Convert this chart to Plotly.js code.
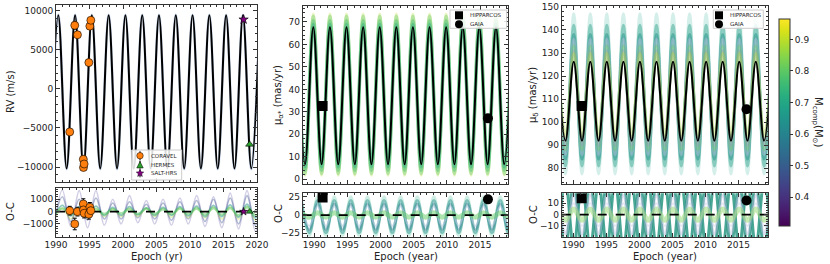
<!DOCTYPE html>
<html><head><meta charset="utf-8">
<script src="https://cdn.plot.ly/plotly-3.0.1.min.js"></script>
<style>html,body{margin:0;padding:0;background:#fff}#chart{width:830px;height:264px}</style>
</head><body><div id="chart"></div>
<script>
// ================= DATA =================
// Panel 1 : radial velocity model (extrema epochs, first one is a trough)
const rvModelEpoch = [1989.09, 1990.34, 1991.59, 1992.85, 1994.10, 1995.35, 1996.60, 1997.86, 1999.11, 2000.36, 2001.61, 2002.87, 2004.12, 2005.37, 2006.62, 2007.88, 2009.13, 2010.38, 2011.63, 2012.89, 2014.14, 2015.39, 2016.64, 2017.90, 2019.15, 2020.40];
const rvModel = [-10170, 9400, -10170, 9400, -10170, 9400, -10170, 9400, -10170, 9400, -10170, 9400, -10170, 9400, -10170, 9400, -10170, 9400, -10170, 9400, -10170, 9400, -10170, 9400, -10170, 9400];
// RV posterior sample envelope (peak / trough levels)
const rvSamplePeak = [9450];
const rvSampleTrough = [-10260];

// RV O-C posterior samples (extrema epochs, first one is a trough)
const rvOCEpoch = [1989.70, 1990.95, 1992.20, 1993.46, 1994.71, 1995.96, 1997.21, 1998.47, 1999.72, 2000.97, 2002.22, 2003.48, 2004.73, 2005.98, 2007.23, 2008.49, 2009.74, 2010.99, 2012.24, 2013.50, 2014.75, 2016.00, 2017.25, 2018.51, 2019.76, 2021.01];
const rvOCSampleA = [-1300, 1750, -1200, 1700, -1300, 1700, -1100, 1000, -1000, 1300, -900, 900, -1000, 1000, -1100, 1100, -1000, 1300, -1200, 1200, -1300, 1500, -1400, 1700, -1600, 1800];
const rvOCSampleB = [-900, 1200, -800, 1000, -700, 1100, -600, 700, -600, 800, -500, 600, -600, 700, -700, 800, -600, 900, -800, 1000, -900, 1100, -1000, 1300, -1100, 1400];
const rvOCSampleC = [-700, 300, -600, 300, -500, 300, -400, 250, -400, 300, -400, 250, -400, 300, -450, 300, -500, 350, -500, 400, -600, 400, -600, 450, -700, 500];
const rvOCSampleD = [-400, 500, -350, 400, -300, 450, -300, 350, -300, 400, -250, 300, -300, 350, -300, 400, -350, 450, -400, 500, -400, 550, -450, 600, -500, 600];
const rvOCSampleE = [-200, 250, -200, 200, -150, 200, -200, 200, -150, 200, -200, 250, -200, 200, -200, 250, -200, 250, -250, 300, -250, 300, -300, 350, -300, 350];

// RV measurements
const coravelEpoch = [1992.05, 1992.80, 1993.20, 1994.08, 1994.10, 1994.20, 1994.90, 1995.05, 1995.20];
const coravelRV    = [-5500, 8100, 6900, -9000, -10050, -9600, 3350, 8000, 8750];
const coravelOC    = [80, -1000, 0, 620, 140, -130, -210, 360, 80];
const coravelErr   = [350, 470, 350, 420, 380, 380, 400, 380, 350];
const hermesEpoch = [2018.9];
const hermesRV    = [-7100];
const hermesOC    = [0];
const hermesErr   = [60];
const saltEpoch = [2018.0];
const saltRV    = [8850];
const saltOC    = [0];
const saltErr   = [60];

// Panel 2 : proper motion in RA (extrema epochs, first one is a peak)
const muaEpoch = [1987.34, 1988.60, 1989.85, 1991.10, 1992.36, 1993.61, 1994.86, 1996.11, 1997.37, 1998.62, 1999.87, 2001.12, 2002.38, 2003.63, 2004.88, 2006.13, 2007.39, 2008.64, 2009.89, 2011.14, 2012.40, 2013.65, 2014.90, 2016.15, 2017.41, 2018.66, 2019.91];
const muaModel = [67.6, 6.7, 67.6, 6.7, 67.6, 6.7, 67.6, 6.7, 67.6, 6.7, 67.6, 6.7, 67.6, 6.7, 67.6, 6.7, 67.6, 6.7, 67.6, 6.7, 67.6, 6.7, 67.6, 6.7, 67.6, 6.7, 67.6];
const muaSamplePeak   = [73.5, 72.5, 70.5, 69.0];
const muaSampleTrough = [1.8, 2.5, 4.0, 5.5];
const muaOCEpoch = [1988.00, 1989.25, 1990.50, 1991.75, 1993.01, 1994.26, 1995.51, 1996.76, 1998.02, 1999.27, 2000.52, 2001.77, 2003.03, 2004.28, 2005.53, 2006.78, 2008.04, 2009.29, 2010.54, 2011.79, 2013.05, 2014.30, 2015.55, 2016.80, 2018.06, 2019.31, 2020.56];
const muaOCSamplePeak   = [25, 20, 15, 12, 3];
const muaOCSampleTrough = [-28, -24, -20, -15, -3];

// Panel 3 : proper motion in Dec (extrema epochs, first one is a peak)
const mudEpoch = [1987.55, 1988.80, 1990.05, 1991.30, 1992.56, 1993.81, 1995.06, 1996.31, 1997.57, 1998.82, 2000.07, 2001.32, 2002.58, 2003.83, 2005.08, 2006.33, 2007.59, 2008.84, 2010.09, 2011.34, 2012.60, 2013.85, 2015.10, 2016.35, 2017.61, 2018.86, 2020.11];
const mudModel = [126.2, 92, 126.2, 92, 126.2, 92, 126.2, 92, 126.2, 92, 126.2, 92, 126.2, 92, 126.2, 92, 126.2, 92, 126.2, 92, 126.2, 92, 126.2, 92, 126.2, 92, 126.2];
const mudSamplePeak   = [147, 142, 138, 136, 133, 131, 130];
const mudSampleTrough = [77.5, 81, 84, 86, 88, 90, 94];
const mudOCSamplePeak   = [30, -30, 17, 10, 5];
const mudOCSampleTrough = [-30, 30, -17, -10, -5];

// Absolute astrometry
const hipEpoch  = [1991.25];
const hipMua    = [32.6];
const hipMuaOC  = [24.1];
const hipMud    = [107.0];
const hipMudOC  = [14.5];
const gaiaEpoch = [2016.2];
const gaiaMua   = [27.1];
const gaiaMuaOC = [21.4];
const gaiaMud   = [105.6];
const gaiaMudOC = [12.4];

// Companion mass range of the colour bar
const massRange = [0.308, 0.965];
const massTicks = [0.4, 0.5, 0.6, 0.7, 0.8, 0.9];

// Text
const rvNames = ['CORAVEL', 'HERMES', 'SALT-HRS'];
const astroNames = ['HIPPARCOS', 'GAIA'];

// ================= STYLES =================
const TICK_FONT = 9, TITLE_FONT = 10, LEGEND_FONT = 5.5;
const rvSampleStyle   = [{c:'rgba(110,150,205,0.35)', w:2.6}];
const rvOCStyle = [
  {c:'rgba(90,80,160,0.28)', w:1.6},
  {c:'rgba(59,82,139,0.40)', w:1.6},
  {c:'rgba(190,220,60,0.35)', w:1.6},
  {c:'rgba(33,145,140,0.50)', w:1.8},
  {c:'rgba(94,201,98,0.55)', w:2.5}
];
const muaSampleStyle = [
  {c:'rgba(190,225,60,0.30)', w:3},
  {c:'rgba(94,201,98,0.40)', w:3.5},
  {c:'rgba(63,188,115,0.40)', w:3.5},
  {c:'rgba(34,168,132,0.40)', w:3}
];
const muaOCStyle = [
  {c:'rgba(90,195,160,0.30)', w:3},
  {c:'rgba(33,145,140,0.50)', w:3},
  {c:'rgba(45,120,140,0.40)', w:2.5},
  {c:'rgba(185,205,225,0.6)', w:2},
  {c:'rgba(94,201,98,0.5)', w:5}
];
const mudSampleStyle = [
  {c:'rgba(100,195,175,0.28)', w:3},
  {c:'rgba(40,160,135,0.45)', w:3},
  {c:'rgba(33,145,140,0.50)', w:3},
  {c:'rgba(190,190,225,0.40)', w:3},
  {c:'rgba(94,201,98,0.40)', w:3},
  {c:'rgba(140,130,190,0.30)', w:3},
  {c:'rgba(180,222,44,0.35)', w:3}
];
const mudOCStyle = [
  {c:'rgba(42,150,130,0.85)', w:3},
  {c:'rgba(42,150,130,0.85)', w:3},
  {c:'rgba(180,185,220,0.45)', w:3},
  {c:'rgba(210,215,235,0.6)', w:2},
  {c:'rgba(130,210,90,0.45)', w:5}
];
const coravelColor = '#ff7f0e', hermesColor = '#2ca02c', saltColor = '#800080';

// ================= BUILD =================
// expand a sample (peak/trough levels) over the alternating extrema epochs
function levels(epochs, peak, trough, firstIsPeak) {
  return epochs.map((_, i) => ((i % 2 === 0) === firstIsPeak) ? peak : trough);
}
function curve(x, y, xa, ya, color, width) {
  return {type:'scatter', mode:'lines', x:x, y:y, xaxis:xa, yaxis:ya,
    line:{color:color, width:width, shape:'spline', smoothing:1},
    hoverinfo:'skip', showlegend:false};
}
function pts(x, y, xa, ya, sym, color, size, err, lw) {
  const t = {type:'scatter', mode:'markers', x:x, y:y, xaxis:xa, yaxis:ya, showlegend:false, hoverinfo:'skip',
    marker:{symbol:sym, color:color, size:size, line:{color:'#000', width:lw === undefined ? 0.6 : lw}}};
  if (err) t.error_y = {type:'data', array:err, visible:true, color:'#000', thickness:1, width:2};
  return t;
}
function zeroLine(range, xa, ya) {
  return {type:'scatter', mode:'lines', x:range, y:[0, 0], xaxis:xa, yaxis:ya,
    line:{color:'#000', width:1.8, dash:'dash'}, hoverinfo:'skip', showlegend:false};
}

const x1Range = [1990, 2020];
const x2Range = [1988.25, 2019.27];
const x3Range = [1988.23, 2019.5];

const traces = [];
// ---- panel 1
rvSamplePeak.forEach((p, i) => traces.push(curve(rvModelEpoch, levels(rvModelEpoch, p, rvSampleTrough[i], false), 'x', 'y', rvSampleStyle[i].c, rvSampleStyle[i].w)));
traces.push(curve(rvModelEpoch, rvModel, 'x', 'y', '#000', 2));
[rvOCSampleA, rvOCSampleB, rvOCSampleC, rvOCSampleD, rvOCSampleE].forEach((s, i) => traces.push(curve(rvOCEpoch, s, 'x2', 'y2', rvOCStyle[i].c, rvOCStyle[i].w)));
traces.push(zeroLine(x1Range, 'x2', 'y2'));
traces.push(pts(coravelEpoch, coravelRV, 'x', 'y', 'circle', coravelColor, 8, coravelErr));
traces.push(pts(hermesEpoch, hermesRV, 'x', 'y', 'triangle-up', hermesColor, 7, hermesErr));
traces.push(pts(saltEpoch, saltRV, 'x', 'y', 'star', saltColor, 7, saltErr));
traces.push(pts(coravelEpoch, coravelOC, 'x2', 'y2', 'circle', coravelColor, 8, coravelErr));
traces.push(pts(hermesEpoch, hermesOC, 'x2', 'y2', 'triangle-up', hermesColor, 6, hermesErr));
traces.push(pts(saltEpoch, saltOC, 'x2', 'y2', 'star', saltColor, 6, saltErr));
// ---- panel 2
muaSamplePeak.forEach((p, i) => traces.push(curve(muaEpoch, levels(muaEpoch, p, muaSampleTrough[i], true), 'x3', 'y3', muaSampleStyle[i].c, muaSampleStyle[i].w)));
traces.push(curve(muaEpoch, muaModel, 'x3', 'y3', '#000', 2));
muaOCSamplePeak.forEach((p, i) => traces.push(curve(muaOCEpoch, levels(muaOCEpoch, p, muaOCSampleTrough[i], true), 'x4', 'y4', muaOCStyle[i].c, muaOCStyle[i].w)));
traces.push(zeroLine(x2Range, 'x4', 'y4'));
traces.push(pts(hipEpoch, hipMua, 'x3', 'y3', 'square', '#000', 10, null, 0));
traces.push(pts(gaiaEpoch, gaiaMua, 'x3', 'y3', 'circle', '#000', 10, null, 0));
traces.push(pts(hipEpoch, hipMuaOC, 'x4', 'y4', 'square', '#000', 10, null, 0));
traces.push(pts(gaiaEpoch, gaiaMuaOC, 'x4', 'y4', 'circle', '#000', 10, null, 0));
// ---- panel 3
mudSamplePeak.forEach((p, i) => traces.push(curve(mudEpoch, levels(mudEpoch, p, mudSampleTrough[i], true), 'x5', 'y5', mudSampleStyle[i].c, mudSampleStyle[i].w)));
traces.push(curve(mudEpoch, mudModel, 'x5', 'y5', '#000', 2));
mudOCSamplePeak.forEach((p, i) => traces.push(curve(mudEpoch, levels(mudEpoch, p, mudOCSampleTrough[i], true), 'x6', 'y6', mudOCStyle[i].c, mudOCStyle[i].w)));
traces.push(zeroLine(x3Range, 'x6', 'y6'));
traces.push(pts(hipEpoch, hipMud, 'x5', 'y5', 'square', '#000', 10, null, 0));
traces.push(pts(gaiaEpoch, gaiaMud, 'x5', 'y5', 'circle', '#000', 10, null, 0));
traces.push(pts(hipEpoch, hipMudOC, 'x6', 'y6', 'square', '#000', 10, null, 0));
traces.push(pts(gaiaEpoch, gaiaMudOC, 'x6', 'y6', 'circle', '#000', 10, null, 0));
// ---- colour bar carrier
traces.push({type:'scatter', mode:'markers', x:[null], y:[null], xaxis:'x5', yaxis:'y5', showlegend:false, hoverinfo:'skip',
  marker:{color:[massRange[0]], cmin:massRange[0], cmax:massRange[1], colorscale:'Viridis', showscale:true,
    colorbar:{x:779/830, xanchor:'left', y:1 - 19/264, yanchor:'top', len:206.7/264, lenmode:'fraction',
      thickness:11, thicknessmode:'pixels', xpad:0, ypad:0, outlinewidth:1, outlinecolor:'#333',
      ticks:'outside', ticklen:3, tickcolor:'#333', tickvals:massTicks, tickfont:{size:TICK_FONT, color:'#222'}}}});

// ================= LAYOUT =================
const W = 830, H = 264;
const fx = px => px / W;
const fy = py => 1 - py / H;
const axBase = {showline:true, linecolor:'#333', linewidth:1, mirror:'allticks', ticks:'inside', ticklen:4,
  tickcolor:'#333', tickwidth:1, showgrid:false, zeroline:false, automargin:false,
  tickfont:{size:TICK_FONT, color:'#222'}};
function xAxis(domain, range, anchor, labels) {
  return Object.assign({}, axBase, {domain:domain, range:range, anchor:anchor, tick0:1990, dtick:5,
    showticklabels:labels, ticklabelstandoff:-1,
    minor:{ticks:'inside', ticklen:2, dtick:1, tick0:1990, tickcolor:'#333'}});
}
function yAxis(domain, range, anchor, dtick, minor, tickvals) {
  const a = Object.assign({}, axBase, {domain:domain, range:range, anchor:anchor, dtick:dtick, tickformat:'d',
    minor:{ticks:'inside', ticklen:2, dtick:minor, tickcolor:'#333'}});
  if (tickvals) { a.tickvals = tickvals; a.tickmode = 'array'; }
  return a;
}
const d1x = [fx(56), fx(257)], d2x = [fx(302.7), fx(508.3)], d3x = [fx(561.7), fx(768.3)];

// ---- legend frames and keys (drawn as shapes)
const legendBoxes = [[131.7, 150, 181.7, 180], [450, 10, 506.7, 28.3], [713.3, 10, 763.3, 28.3]];
const shapes = legendBoxes.map(b => ({type:'rect', xref:'paper', yref:'paper', x0:fx(b[0]), x1:fx(b[2]), y0:fy(b[3]), y1:fy(b[1]),
  fillcolor:'rgba(255,255,255,0.85)', line:{color:'#cccccc', width:1}, layer:'above'}));
function pxPath(points) {
  return 'M ' + points.map(p => fx(p[0]).toFixed(5) + ',' + fy(p[1]).toFixed(5)).join(' L ') + ' Z';
}
function keyBar(cx, cy, h) {
  return {type:'line', xref:'paper', yref:'paper', x0:fx(cx), x1:fx(cx), y0:fy(cy - h / 2), y1:fy(cy + h / 2),
    line:{color:'#000', width:1}, layer:'above'};
}
function keyCircle(cx, cy, d, fill, lw) {
  return {type:'circle', xref:'paper', yref:'paper', x0:fx(cx - d / 2), x1:fx(cx + d / 2), y0:fy(cy + d / 2), y1:fy(cy - d / 2),
    fillcolor:fill, line:{color:'#000', width:lw}, layer:'above'};
}
function keySquare(cx, cy, s) {
  return {type:'rect', xref:'paper', yref:'paper', x0:fx(cx - s / 2), x1:fx(cx + s / 2), y0:fy(cy + s / 2), y1:fy(cy - s / 2),
    fillcolor:'#000', line:{color:'#000', width:0}, layer:'above'};
}
function keyTriangle(cx, cy, s, fill) {
  return {type:'path', xref:'paper', yref:'paper', path:pxPath([[cx, cy - s / 2], [cx + s / 2, cy + s / 2], [cx - s / 2, cy + s / 2]]),
    fillcolor:fill, line:{color:'#000', width:0.5}, layer:'above'};
}
function keyStar(cx, cy, r, fill) {
  const p = [];
  for (let k = 0; k < 10; k++) {
    const a = -Math.PI / 2 + k * Math.PI / 5, rr = k % 2 ? r * 0.45 : r;
    p.push([cx + rr * Math.cos(a), cy + rr * Math.sin(a)]);
  }
  return {type:'path', xref:'paper', yref:'paper', path:pxPath(p), fillcolor:fill, line:{color:'#000', width:0.4}, layer:'above'};
}
shapes.push(keyBar(140, 155.7, 9), keyCircle(140, 155.7, 6.5, coravelColor, 0.5));
shapes.push(keyBar(140, 164.7, 8), keyTriangle(140, 164.7, 6.5, hermesColor));
shapes.push(keyBar(140, 173.3, 8), keyStar(140, 173.3, 4, saltColor));
[459, 719].forEach(cx => {
  shapes.push(keySquare(cx, 15.3, 8));
  shapes.push(keyCircle(cx, 24.3, 8, '#000', 0));
});

function label(px, py, text) {
  return {xref:'paper', yref:'paper', x:fx(px), y:fy(py), text:text, showarrow:false, xanchor:'left', yanchor:'middle',
    font:{size:LEGEND_FONT, color:'#222'}};
}
function title(px, py, text, angle) {
  return {xref:'paper', yref:'paper', x:fx(px), y:fy(py), text:text, showarrow:false, xanchor:'center', yanchor:'middle',
    textangle:angle || 0, font:{size:TITLE_FONT, color:'#222'}};
}
const annotations = [
  label(149, 155.7, rvNames[0]), label(149, 164.7, rvNames[1]), label(149, 173.3, rvNames[2]),
  label(468, 15.3, astroNames[0]), label(468, 24.3, astroNames[1]),
  label(728, 15.3, astroNames[0]), label(728, 24.3, astroNames[1]),
  title(10, 92, 'RV (m/s)', -90),
  title(10, 212, 'O-C', -90),
  title(156.5, 256, 'Epoch (yr)'),
  title(278, 95, 'μ<sub>α*</sub> (mas/yr)', -90),
  title(278, 214, 'O-C', -90),
  title(405.5, 256, 'Epoch (year)'),
  title(533, 95, 'μ<sub>δ</sub> (mas/yr)', -90),
  title(533, 215, 'O-C', -90),
  title(665, 256, 'Epoch (year)'),
  title(818, 122, 'M<sub>comp</sub>(M<sub>⊙</sub>)', 90)
];

const layout = {
  width:W, height:H, margin:{l:0, r:0, t:0, b:0}, paper_bgcolor:'#fff', plot_bgcolor:'#fff',
  font:{family:'DejaVu Sans, sans-serif', size:TICK_FONT, color:'#222'}, showlegend:false,
  xaxis:  xAxis(d1x, x1Range, 'y', false),
  xaxis2: xAxis(d1x, x1Range, 'y2', true),
  xaxis3: xAxis(d2x, x2Range, 'y3', false),
  xaxis4: xAxis(d2x, x2Range, 'y4', true),
  xaxis5: xAxis(d3x, x3Range, 'y5', false),
  xaxis6: xAxis(d3x, x3Range, 'y6', true),
  yaxis:  yAxis([fy(182), fy(5)], [-11900, 10700], 'x', 5000, 1000),
  yaxis2: yAxis([fy(236.7), fy(188.3)], [-2030, 1890], 'x2', 1000, 200, [-1000, 0, 1000]),
  yaxis3: yAxis([fy(184), fy(6)], [-2.1, 77.1], 'x3', 10, 2),
  yaxis4: yAxis([fy(236.7), fy(192.7)], [-29.6, 30.5], 'x4', 25, 5, [-25, 0, 25]),
  yaxis5: yAxis([fy(184), fy(6)], [73.2, 150.4], 'x5', 10, 2),
  yaxis6: yAxis([fy(237.3), fy(193.3)], [-20, 18.8], 'x6', 10, 2, [-10, 0, 10]),
  shapes:shapes, annotations:annotations
};

Plotly.newPlot('chart', traces, layout, {staticPlot:true, displayModeBar:false});
</script>
</body></html>
